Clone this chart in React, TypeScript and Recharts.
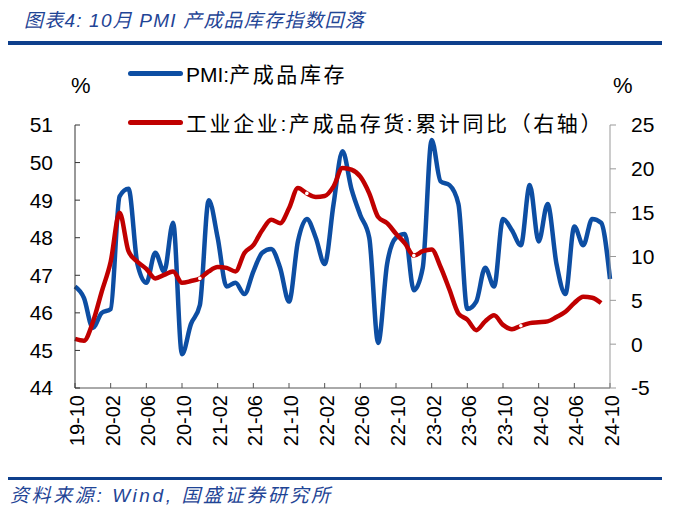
import { LineChart, Line, XAxis, YAxis } from "recharts";

// monthly categories, 2019-10 .. 2024-10
const months = [
  "19-10", "19-11", "19-12", "20-01", "20-02", "20-03", "20-04", "20-05", "20-06", "20-07",
  "20-08", "20-09", "20-10", "20-11", "20-12", "21-01", "21-02", "21-03", "21-04", "21-05",
  "21-06", "21-07", "21-08", "21-09", "21-10", "21-11", "21-12", "22-01", "22-02", "22-03",
  "22-04", "22-05", "22-06", "22-07", "22-08", "22-09", "22-10", "22-11", "22-12", "23-01",
  "23-02", "23-03", "23-04", "23-05", "23-06", "23-07", "23-08", "23-09", "23-10", "23-11",
  "23-12", "24-01", "24-02", "24-03", "24-04", "24-05", "24-06", "24-07", "24-08", "24-09",
  "24-10",
];

// PMI: 产成品库存 (left axis)
const pmiInventory = [
  46.7, 46.4, 45.6, 46.0, 46.1, 49.1, 49.3, 47.3, 46.8, 47.6,
  47.1, 48.4, 44.9, 45.7, 46.2, 49.0, 48.0, 46.7, 46.8, 46.5,
  47.1, 47.6, 47.7, 47.2, 46.3, 47.9, 48.5, 48.0, 47.3, 48.9,
  50.3, 49.3, 48.6, 48.0, 45.2, 47.3, 48.0, 48.1, 46.6, 47.2,
  50.6, 49.5, 49.4, 48.9, 46.1, 46.3, 47.2, 46.7, 48.5, 48.2,
  47.8, 49.4, 47.9, 48.9, 47.3, 46.5, 48.3, 47.8, 48.5, 48.4,
  46.9,
];

// 工业企业: 产成品存货: 累计同比 (right axis), 24-10 not yet released
const industryInventory = [
  0.6, 0.4, 2.5, 6.0, 9.4, 15.0, 10.6, 9.4, 8.6, 7.5,
  7.9, 8.3, 7.0, 7.2, 7.5, 8.3, 8.8, 8.7, 8.3, 10.4,
  11.3, 13.0, 14.2, 13.8, 15.5, 17.8, 17.2, 16.8, 16.9, 18.0,
  20.1, 19.9, 19.1, 17.2, 14.5, 13.8, 12.6, 11.5, 10.1, 10.6,
  10.8, 8.8, 6.2, 3.5, 2.8, 1.6, 2.6, 3.3, 2.2, 1.7,
  2.1, 2.4, 2.5, 2.6, 3.1, 3.7, 4.7, 5.4, 5.3, 4.7,
  null,
];

const leftTicks = [44, 45, 46, 47, 48, 49, 50, 51];
const rightTicks = [-5, 0, 5, 10, 15, 20, 25];

const BLUE = "#0d4ea3";
const RED = "#c00000";
const NUM_FONT = "'Liberation Sans', Arial, 'Noto Sans CJK SC', sans-serif";
const CJK_FONT = "'Liberation Sans', 'Noto Sans CJK SC', sans-serif";

const chartData = months.map((m, i) => ({
  m,
  pmi: pmiInventory[i],
  ind: industryInventory[i],
}));

function MonthTick(props: any) {
  const { x, y, payload } = props;
  return (
    <text
      x={x + 2}
      y={y}
      transform={`rotate(-90, ${x + 2}, ${y})`}
      textAnchor="end"
      dy="0.35em"
      fontSize={20}
      fontFamily={NUM_FONT}
      fill="#000"
    >
      {payload.value}
    </text>
  );
}

// small white marks at the december points of the red line
function DecDot(props: any) {
  const { cx, cy, payload, index } = props;
  if (cy == null || !payload || !payload.m.endsWith("-12") || index < 10) {
    return <g key={`d${index}`} />;
  }
  return <circle key={`d${index}`} cx={cx} cy={cy} r={1.8} fill="#fff" stroke="none" />;
}

function LegendRow({ color, latin, cjk, top }: { color: string; latin: string; cjk: string; top: number }) {
  return (
    <div style={{ position: "absolute", left: 128, top, display: "flex", alignItems: "center", whiteSpace: "nowrap" }}>
      <span style={{ display: "inline-block", width: 55, height: 5, borderRadius: 3, background: color }} />
      <span style={{ marginLeft: 3, fontSize: 21, color: "#000", fontFamily: CJK_FONT }}>
        {latin}
        <span style={{ letterSpacing: 2.6 }}>{cjk}</span>
      </span>
    </div>
  );
}

export default function App() {
  return (
    <div style={{ position: "absolute", left: 0, top: 0, width: 689, height: 510, background: "#fff", overflow: "hidden" }}>
      <div
        style={{
          position: "absolute", left: 24, top: 5, fontSize: 19, fontStyle: "italic",
          color: "#1f4596", fontFamily: CJK_FONT, whiteSpace: "nowrap", letterSpacing: 1.2,
        }}
      >
        图表4:  10月 PMI 产成品库存指数回落
      </div>
      <div style={{ position: "absolute", left: 8, top: 41, width: 654, height: 4, background: "#0e3f8c" }} />

      <div style={{ position: "absolute", left: 71, top: 73, fontSize: 22, fontFamily: NUM_FONT }}>%</div>
      <div style={{ position: "absolute", left: 613, top: 73, fontSize: 22, fontFamily: NUM_FONT }}>%</div>

      <LegendRow color={BLUE} latin="PMI:" cjk="产成品库存" top={58} />
      <LegendRow color={RED} latin="" cjk="工业企业:产成品存货:累计同比（右轴）" top={107} />

      <div style={{ position: "absolute", left: 0, top: 0 }}>
        <LineChart width={689} height={460} data={chartData} margin={{ top: 125, right: 19, left: 15, bottom: 0 }}>
          <XAxis
            dataKey="m"
            interval={3}
            height={72}
            tickSize={-5}
            tickMargin={12}
            stroke="#555"
            tick={<MonthTick />}
          />
          <YAxis
            yAxisId="left"
            width={60}
            domain={[44, 51]}
            ticks={leftTicks}
            interval={0}
            tickSize={-5}
            tickMargin={27}
            stroke="#333"
            tick={{ fill: "#000", fontSize: 21, fontFamily: NUM_FONT }}
          />
          <YAxis
            yAxisId="right"
            orientation="right"
            width={60}
            domain={[-5, 25]}
            ticks={rightTicks}
            interval={0}
            tickSize={6}
            tickMargin={15}
            stroke="#999"
            tick={{ fill: "#000", fontSize: 21, fontFamily: NUM_FONT }}
          />
          <Line
            yAxisId="left"
            type="monotone"
            dataKey="pmi"
            stroke={BLUE}
            strokeWidth={4.5}
            dot={false}
            activeDot={false}
            isAnimationActive={false}
          />
          <Line
            yAxisId="right"
            type="monotone"
            dataKey="ind"
            stroke={RED}
            strokeWidth={4.5}
            dot={<DecDot />}
            activeDot={false}
            isAnimationActive={false}
          />
        </LineChart>
      </div>

      <div style={{ position: "absolute", left: 8, top: 477, width: 654, height: 3, background: "#0e3f8c" }} />
      <div
        style={{
          position: "absolute", left: 10, top: 480, fontSize: 19, fontStyle: "italic",
          color: "#1f4596", fontFamily: CJK_FONT, whiteSpace: "nowrap", letterSpacing: 2.6,
        }}
      >
        资料来源: Wind, 国盛证券研究所
      </div>
    </div>
  );
}
